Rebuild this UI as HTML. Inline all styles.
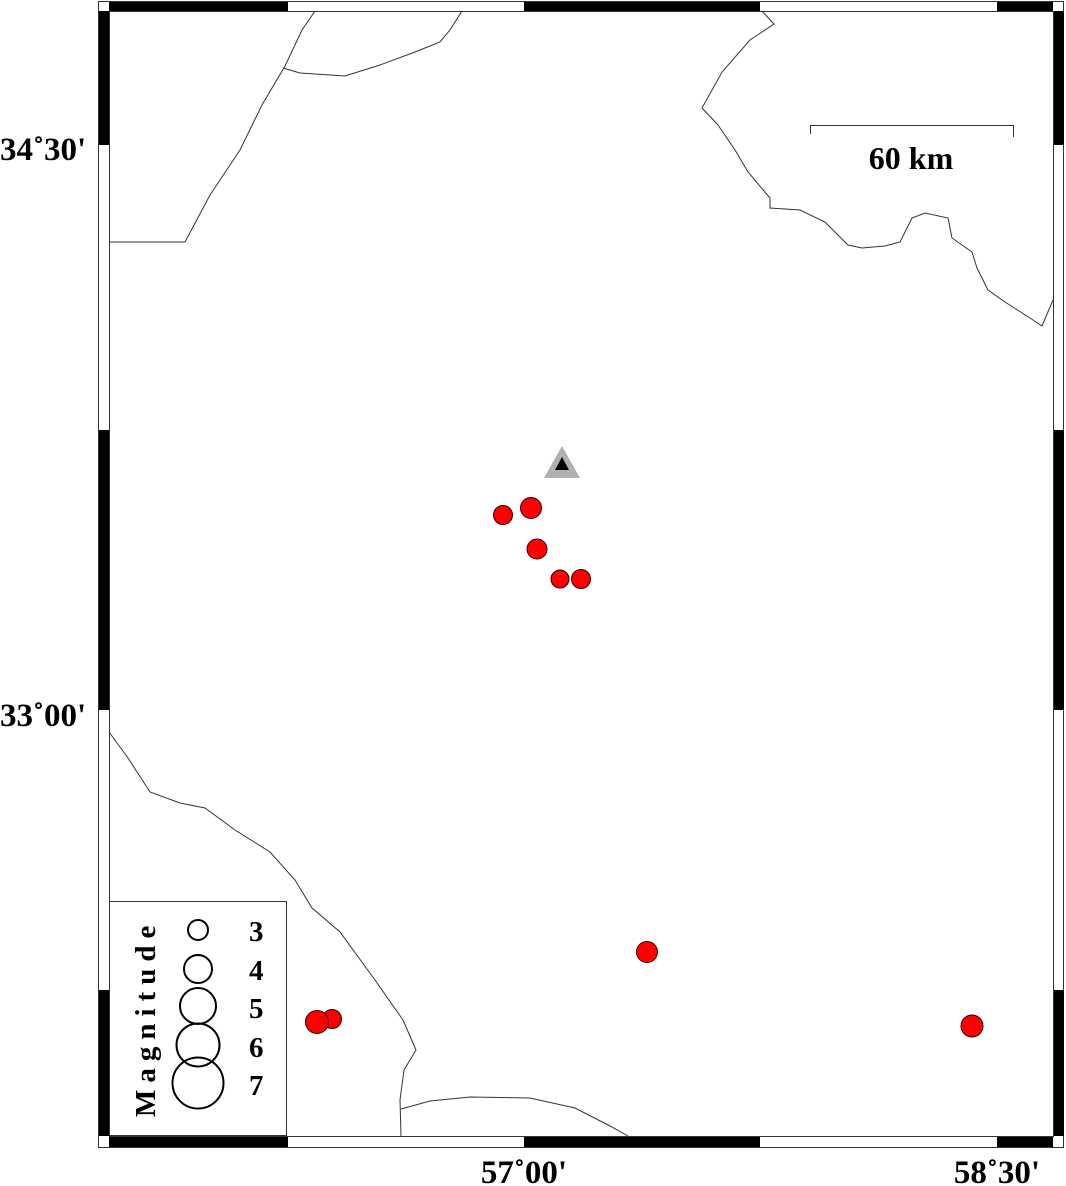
<!DOCTYPE html>
<html><head><meta charset="utf-8"><style>
html,body{margin:0;padding:0;background:#fff;}
svg{display:block;}
text{font-family:"Liberation Serif",serif;font-weight:bold;fill:#000;}
</style></head><body>
<svg width="1066" height="1186" viewBox="0 0 1066 1186" xmlns="http://www.w3.org/2000/svg">
<rect x="0" y="0" width="1066" height="1186" fill="#fff"/>
<rect x="98.5" y="1.5" width="965" height="1146" fill="none" stroke="#333" stroke-width="1"/>
<rect x="109.5" y="11.5" width="944" height="1125" fill="none" stroke="#333" stroke-width="1"/>
<g fill="#000">
<rect x="109" y="2" width="179" height="9"/>
<rect x="524" y="2" width="236" height="9"/>
<rect x="997" y="2" width="56" height="9"/>
<rect x="109" y="1137" width="179" height="10"/>
<rect x="524" y="1137" width="236" height="10"/>
<rect x="997" y="1137" width="56" height="10"/>
<rect x="99" y="11" width="10" height="134"/>
<rect x="99" y="430" width="10" height="280"/>
<rect x="99" y="990" width="10" height="146"/>
<rect x="1054" y="11" width="10" height="134"/>
<rect x="1054" y="430" width="10" height="280"/>
<rect x="1054" y="990" width="10" height="146"/>
</g>
<g fill="none" stroke="#333" stroke-width="1">
<path d="M109,242 L185,242 L210,195 L240,150 L262,105 L285,66 L302,30 L315,11"/>
<path d="M283,68 L300,73 L345,76 L380,65 L415,52 L440,42 L450,30 L462,11"/>
<path d="M762,11 L774,24 L750,40 L722,72 L702,108 L718,125 L735,150 L748,172 L770,198 L770,208 L800,210 L825,222 L848,245 L862,248 L885,246 L900,242 L912,218 L925,213 L948,218 L952,238 L972,252 L977,268 L988,290 L1005,302 L1030,318 L1042,326 L1053,300"/>
<path d="M109,732 L128,758 L150,792 L180,803 L205,808 L235,830 L270,852 L295,880 L312,908 L340,932 L375,980 L403,1020 L416,1050 L404,1070 L400,1100 L401,1136"/>
<path d="M401,1109 L430,1101 L470,1097 L530,1098 L575,1108 L610,1126 L628,1136"/>
</g>
<path d="M810.5,134 L810.5,125.5 L1013.5,125.5 L1013.5,137" fill="none" stroke="#333" stroke-width="1"/>
<text x="911" y="169" font-size="32" text-anchor="middle">60 km</text>
<text x="0" y="160" font-size="33">34˚30'</text>
<text x="0" y="726" font-size="33">33˚00'</text>
<text x="524" y="1183" font-size="33" text-anchor="middle">57˚00'</text>
<text x="997" y="1183" font-size="33" text-anchor="middle">58˚30'</text>
<polygon points="562,446 544,478 580,478" fill="#b0b0b0"/>
<polygon points="562,457 555,470 569,470" fill="#000"/>
<g fill="#ff0000" stroke="#300" stroke-width="1">
<circle cx="503" cy="515" r="9.5"/>
<circle cx="531" cy="508" r="10.5"/>
<circle cx="537" cy="549" r="10"/>
<circle cx="560" cy="579" r="9"/>
<circle cx="581" cy="579" r="9.5"/>
<circle cx="647" cy="952" r="10.5"/>
<circle cx="972" cy="1026" r="11"/>
<circle cx="332" cy="1019" r="9.5"/>
<circle cx="317" cy="1022" r="11.5"/>
</g>
<rect x="109.5" y="901.5" width="177" height="234" fill="#fff" stroke="#333" stroke-width="1"/>
<g fill="none" stroke="#000" stroke-width="2">
<circle cx="198" cy="930" r="10"/>
<circle cx="198" cy="969" r="14"/>
<circle cx="198" cy="1006" r="18"/>
<circle cx="198" cy="1045" r="21.5"/>
<circle cx="198" cy="1083" r="25.5"/>
</g>
<g font-size="29">
<text x="249" y="941">3</text>
<text x="249" y="980">4</text>
<text x="249" y="1018">5</text>
<text x="249" y="1057">6</text>
<text x="249" y="1095">7</text>
</g>
<text transform="translate(155,1117) rotate(-90)" font-size="29" letter-spacing="7">Magnitude</text>
</svg>
</body></html>
